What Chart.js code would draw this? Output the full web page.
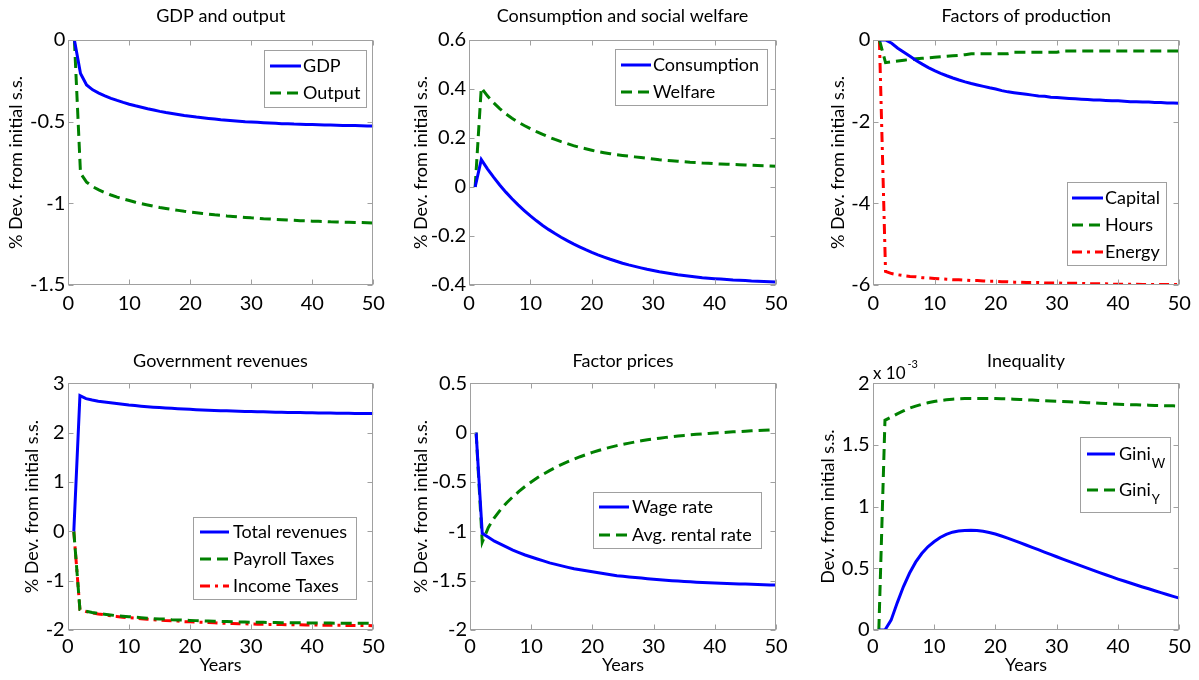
<!DOCTYPE html>
<html><head><meta charset="utf-8">
<script src="https://cdn.jsdelivr.net/npm/chart.js@4.4.1/dist/chart.umd.min.js"></script>
<style>
html,body{margin:0;padding:0;background:#fff;}
#wrap{position:relative;width:1199px;height:680px;overflow:hidden;background:#fff;}
canvas{position:absolute;}
</style></head><body><div id="wrap">
<canvas id="c1" width="400" height="340" style="left:0;top:0"></canvas>
<canvas id="c2" width="400" height="340" style="left:400px;top:0"></canvas>
<canvas id="c3" width="399" height="340" style="left:800px;top:0"></canvas>
<canvas id="c4" width="400" height="340" style="left:0;top:340px"></canvas>
<canvas id="c5" width="400" height="340" style="left:400px;top:340px"></canvas>
<canvas id="c6" width="399" height="340" style="left:800px;top:340px"></canvas>
</div>
<script>
// ---------------- DATA ----------------
const years = [1,2,3,4,5,6,7,8,9,10,11,12,13,14,15,16,17,18,19,20,21,22,23,24,25,26,27,28,29,30,31,32,33,34,35,36,37,38,39,40,41,42,43,44,45,46,47,48,49,50];
const xTicks = [0,10,20,30,40,50];

const gdp = [0,-0.205,-0.275,-0.305,-0.325,-0.342,-0.357,-0.370,-0.382,-0.393,
 -0.403,-0.412,-0.421,-0.429,-0.437,-0.444,-0.450,-0.456,-0.462,-0.467,
 -0.472,-0.476,-0.480,-0.484,-0.488,-0.491,-0.494,-0.497,-0.500,-0.502,
 -0.504,-0.506,-0.508,-0.510,-0.512,-0.513,-0.515,-0.516,-0.517,-0.518,
 -0.519,-0.520,-0.521,-0.522,-0.523,-0.524,-0.524,-0.525,-0.526,-0.526];
const output = [0,-0.816,-0.870,-0.898,-0.918,-0.935,-0.949,-0.962,-0.973,-0.983,
 -0.993,-1.002,-1.010,-1.018,-1.025,-1.031,-1.037,-1.043,-1.049,-1.054,
 -1.058,-1.062,-1.066,-1.070,-1.073,-1.077,-1.080,-1.083,-1.086,-1.089,
 -1.091,-1.094,-1.096,-1.098,-1.100,-1.102,-1.104,-1.106,-1.107,-1.109,
 -1.110,-1.111,-1.113,-1.114,-1.115,-1.116,-1.117,-1.118,-1.119,-1.120];
const ticksGDP = [-1.5,-1,-0.5,0];

const consumption = [0,0.112,0.074,0.040,0.008,-0.021,-0.048,-0.073,-0.096,-0.118,
 -0.138,-0.157,-0.174,-0.190,-0.205,-0.219,-0.232,-0.244,-0.256,-0.267,
 -0.277,-0.286,-0.295,-0.303,-0.311,-0.318,-0.324,-0.330,-0.336,-0.341,
 -0.346,-0.350,-0.354,-0.358,-0.361,-0.364,-0.367,-0.370,-0.372,-0.374,
 -0.376,-0.378,-0.380,-0.381,-0.382,-0.384,-0.385,-0.386,-0.387,-0.388];
const welfare = [0,0.405,0.372,0.344,0.320,0.299,0.281,0.265,0.251,0.238,
 0.226,0.215,0.204,0.194,0.185,0.177,0.169,0.162,0.156,0.150,
 0.144,0.140,0.136,0.132,0.129,0.126,0.123,0.120,0.117,0.114,
 0.111,0.109,0.107,0.105,0.103,0.101,0.100,0.098,0.097,0.095,
 0.094,0.093,0.092,0.091,0.090,0.089,0.088,0.087,0.086,0.085];
const ticksCons = [-0.4,-0.2,0,0.2,0.4,0.6];

const capital = [0,0,-0.08,-0.20,-0.30,-0.40,-0.50,-0.59,-0.675,-0.75,
 -0.815,-0.875,-0.93,-0.98,-1.025,-1.065,-1.10,-1.135,-1.17,-1.20,
 -1.24,-1.27,-1.29,-1.31,-1.33,-1.35,-1.37,-1.38,-1.40,-1.41,
 -1.42,-1.43,-1.44,-1.45,-1.46,-1.47,-1.47,-1.48,-1.49,-1.49,
 -1.50,-1.51,-1.51,-1.52,-1.52,-1.53,-1.53,-1.54,-1.54,-1.55];
const hours = [0,-0.555,-0.535,-0.515,-0.495,-0.478,-0.462,-0.448,-0.435,-0.423,
 -0.410,-0.398,-0.386,-0.375,-0.360,-0.335,-0.335,-0.335,-0.335,-0.335,
 -0.335,-0.335,-0.30,-0.30,-0.30,-0.30,-0.30,-0.30,-0.30,-0.30,
 -0.27,-0.27,-0.27,-0.27,-0.27,-0.27,-0.27,-0.27,-0.27,-0.27,
 -0.27,-0.27,-0.27,-0.27,-0.27,-0.27,-0.27,-0.27,-0.27,-0.27];
const energy = [0,-5.67,-5.72,-5.75,-5.77,-5.79,-5.80,-5.82,-5.83,-5.84,
 -5.85,-5.86,-5.87,-5.87,-5.88,-5.89,-5.89,-5.90,-5.91,-5.91,
 -5.92,-5.92,-5.93,-5.93,-5.94,-5.94,-5.94,-5.95,-5.95,-5.95,
 -5.96,-5.96,-5.96,-5.96,-5.97,-5.97,-5.97,-5.97,-5.98,-5.98,
 -5.98,-5.98,-5.98,-5.99,-5.99,-5.99,-5.99,-5.99,-5.99,-5.99];
const ticksFactors = [-6,-4,-2,0];

const totalRevenues = [0,2.75,2.69,2.66,2.635,2.62,2.605,2.59,2.575,2.56,
 2.548,2.537,2.527,2.517,2.508,2.50,2.492,2.485,2.478,2.472,
 2.466,2.461,2.456,2.451,2.446,2.442,2.438,2.434,2.430,2.427,
 2.424,2.421,2.418,2.415,2.413,2.410,2.408,2.406,2.404,2.402,
 2.400,2.398,2.396,2.395,2.393,2.392,2.390,2.389,2.388,2.386];
const payrollTaxes = [0,-1.585,-1.62,-1.645,-1.665,-1.68,-1.695,-1.71,-1.72,-1.73,
 -1.74,-1.75,-1.76,-1.77,-1.775,-1.78,-1.79,-1.795,-1.80,-1.805,
 -1.81,-1.815,-1.82,-1.823,-1.826,-1.83,-1.833,-1.836,-1.839,-1.841,
 -1.843,-1.845,-1.847,-1.849,-1.851,-1.852,-1.854,-1.855,-1.856,-1.857,
 -1.858,-1.859,-1.860,-1.861,-1.861,-1.862,-1.863,-1.863,-1.864,-1.865];
const incomeTaxes = [0,-1.585,-1.625,-1.655,-1.675,-1.69,-1.71,-1.725,-1.74,-1.75,
 -1.76,-1.77,-1.78,-1.79,-1.80,-1.81,-1.815,-1.82,-1.83,-1.835,
 -1.84,-1.845,-1.85,-1.855,-1.86,-1.864,-1.868,-1.872,-1.875,-1.878,
 -1.881,-1.884,-1.886,-1.888,-1.890,-1.892,-1.894,-1.896,-1.898,-1.899,
 -1.901,-1.902,-1.904,-1.905,-1.906,-1.908,-1.909,-1.910,-1.911,-1.912];
const ticksRevenue = [-2,-1,0,1,2,3];

const wageRate = [0,-1.02,-1.06,-1.10,-1.13,-1.16,-1.19,-1.215,-1.24,-1.26,
 -1.28,-1.30,-1.32,-1.335,-1.35,-1.365,-1.38,-1.39,-1.40,-1.41,
 -1.42,-1.43,-1.44,-1.45,-1.455,-1.462,-1.468,-1.474,-1.48,-1.485,
 -1.49,-1.495,-1.50,-1.504,-1.508,-1.512,-1.515,-1.518,-1.521,-1.524,
 -1.527,-1.529,-1.531,-1.533,-1.535,-1.537,-1.539,-1.541,-1.543,-1.545];
const rentalRate = [0,-1.11,-0.96,-0.86,-0.78,-0.71,-0.65,-0.595,-0.545,-0.50,
 -0.458,-0.42,-0.385,-0.352,-0.322,-0.294,-0.268,-0.244,-0.222,-0.20,
 -0.181,-0.163,-0.147,-0.132,-0.118,-0.106,-0.094,-0.083,-0.073,-0.064,
 -0.056,-0.048,-0.041,-0.034,-0.028,-0.022,-0.017,-0.012,-0.008,-0.004,
 0.000,0.004,0.008,0.011,0.015,0.018,0.021,0.024,0.027,0.030];
const ticksPrices = [-2,-1.5,-1,-0.5,0,0.5];

// Inequality values in units of 10^-3
const giniW = [0,0,0.08,0.22,0.35,0.46,0.55,0.62,0.675,0.715,
 0.75,0.775,0.793,0.802,0.807,0.808,0.806,0.80,0.79,0.778,
 0.762,0.745,0.727,0.708,0.689,0.67,0.651,0.632,0.613,0.594,
 0.575,0.556,0.538,0.52,0.502,0.483,0.465,0.448,0.43,0.413,
 0.397,0.381,0.365,0.349,0.334,0.318,0.303,0.288,0.273,0.258];
const giniY = [0,1.70,1.725,1.752,1.776,1.798,1.815,1.83,1.842,1.852,
 1.86,1.866,1.871,1.874,1.876,1.877,1.877,1.877,1.877,1.876,
 1.875,1.873,1.871,1.869,1.866,1.864,1.861,1.859,1.857,1.855,
 1.853,1.850,1.848,1.846,1.843,1.841,1.838,1.836,1.833,1.831,
 1.829,1.827,1.826,1.824,1.823,1.821,1.820,1.818,1.817,1.815];
const ticksIneq = [0,0.5,1,1.5,2];
const ineqExponent = '-3';

// ---------------- STYLE ----------------
const FONT = "Lato, 'Open Sans', sans-serif";
const BLUE = 'rgb(0,0,255)', GREEN = 'rgb(0,128,0)', RED = 'rgb(255,0,0)';
const SOLID = [], DASH = [11,6], DASHDOT = [10,5,3,5];
const BOXC = '#a0a0a0';
const TICKFONT = 20, LEGFONT = 18;
Chart.defaults.font.family = FONT;

const matlabPlugin = {
  id: 'matlab',
  afterDatasetsDraw(chart, args, o) {
    const ctx = chart.ctx, a = chart.chartArea;
    const xs = chart.scales.x, ys = chart.scales.y;
    ctx.save();
    ctx.setLineDash([]);
    ctx.strokeStyle = BOXC; ctx.lineWidth = 1;
    const L = Math.round(a.left)+0.5, R = Math.round(a.right)-0.5, T = Math.round(a.top)+0.5, B = Math.round(a.bottom)-0.5;
    ctx.strokeRect(L, T, R-L, B-T);
    ctx.beginPath();
    xs.ticks.forEach(t => { const px = Math.round(xs.getPixelForValue(t.value))+0.5; ctx.moveTo(px,B); ctx.lineTo(px,B-5); ctx.moveTo(px,T); ctx.lineTo(px,T+5); });
    ys.ticks.forEach(t => { const py = Math.round(ys.getPixelForValue(t.value))+0.5; ctx.moveTo(L,py); ctx.lineTo(L+5,py); ctx.moveTo(R,py); ctx.lineTo(R-5,py); });
    ctx.stroke();
    const lg = o.legend;
    if (lg) {
      ctx.fillStyle = '#fff';
      ctx.fillRect(lg.x, lg.y, lg.w, lg.h);
      ctx.strokeStyle = BOXC; ctx.lineWidth = 1;
      ctx.strokeRect(lg.x+0.5, lg.y+0.5, lg.w, lg.h);
      chart.data.datasets.forEach((ds, i) => {
        const y = lg.rows[i];
        ctx.strokeStyle = ds.borderColor; ctx.lineWidth = ds.borderWidth;
        ctx.setLineDash(ds.borderDash || []);
        ctx.beginPath(); ctx.moveTo(lg.x1, y); ctx.lineTo(lg.x2, y); ctx.stroke();
        ctx.setLineDash([]);
        ctx.fillStyle = '#000'; ctx.font = LEGFONT + 'px ' + FONT;
        ctx.textBaseline = 'middle'; ctx.textAlign = 'left';
        const lab = o.labels[i];
        ctx.fillText(lab[0], lg.tx, y);
        if (lab[1]) {
          const w = ctx.measureText(lab[0]).width;
          ctx.font = '13px ' + FONT;
          ctx.fillText(lab[1], lg.tx + w + 1, y + 10);
        }
      });
    }
    if (o.exponent) {
      const e = o.exponent;
      ctx.fillStyle = '#000'; ctx.textBaseline = 'middle'; ctx.textAlign = 'left';
      ctx.font = '17px ' + FONT;
      ctx.fillText('x 10', e.x, e.y);
      const w = ctx.measureText('x 10').width;
      ctx.font = '11px ' + FONT;
      ctx.fillText(e.exp, e.x + w + 2, e.y - 10);
    }
    ctx.restore();
  }
};

const fmt = v => String(+(+v).toFixed(3));

function makePanel(id, p) {
  const datasets = p.series.map(s => ({
    label: s.label,
    data: years.map((x, i) => ({x: x, y: s.values[i]})),
    borderColor: s.color, backgroundColor: s.color, borderWidth: 3,
    borderDash: s.dash, pointRadius: 0, fill: false, tension: 0
  }));
  const yt = p.yTicks;
  new Chart(document.getElementById(id), {
    type: 'line',
    data: {datasets},
    options: {
      responsive: false, animation: false, devicePixelRatio: 1,
      layout: {padding: {left: p.padLeft, right: p.padRight, top: 0, bottom: 0}},
      plugins: {
        legend: {display: false}, tooltip: {enabled: false},
        title: {display: true, text: p.title, fullSize: false, color: '#000',
          font: {size: 18, weight: 'normal', family: FONT},
          padding: {top: p.titleTop, bottom: p.titleBottom}},
        matlab: {legend: p.legend, labels: p.series.map(s => s.legend), exponent: p.exponent}
      },
      scales: {
        x: {type: 'linear', min: xTicks[0], max: xTicks[xTicks.length-1],
          afterBuildTicks: s => { s.ticks = xTicks.map(v => ({value: v})); },
          ticks: {font: {size: TICKFONT, family: FONT}, color: '#000', padding: p.xPad, maxRotation: 0, callback: fmt},
          grid: {display: false, drawTicks: false, tickLength: 0}, border: {display: false},
          title: {display: !!p.xTitle, text: p.xTitle || '', color: '#000', font: {size: 18, family: FONT}, padding: {top: 0, bottom: 4}},
          afterFit: s => { s.height = p.xH; }},
        y: {type: 'linear', min: yt[0], max: yt[yt.length-1],
          afterBuildTicks: s => { s.ticks = yt.map(v => ({value: v})); },
          ticks: {font: {size: TICKFONT, family: FONT}, color: '#000', padding: 3, callback: fmt},
          grid: {display: false, drawTicks: false, tickLength: 0}, border: {display: false},
          title: {display: true, text: p.yTitle, color: '#000', font: {size: 18, family: FONT}, padding: 0},
          afterFit: s => { s.width = p.yW; }}
      }
    },
    plugins: [matlabPlugin]
  });
}

const YT = '% Dev. from initial s.s.';
// title font 18 -> line height 21.6
const TOP = {titleTop: 5.2, titleBottom: 13.2, xH: 55, xPad: 6.5};
const BOT = {titleTop: 10.2, titleBottom: 11.5, xH: 50, xPad: 4.2, xTitle: 'Years'};

makePanel('c1', Object.assign({}, TOP, {
  title: 'GDP and output', yTitle: YT, yTicks: ticksGDP,
  padLeft: 5.2, yW: 63.1, padRight: 26.7,
  series: [
    {label: 'GDP', legend: ['GDP'], values: gdp, color: BLUE, dash: SOLID},
    {label: 'Output', legend: ['Output'], values: output, color: GREEN, dash: DASH}],
  legend: {x: 264, y: 50, w: 102, h: 57, rows: [66, 93], x1: 270, x2: 301, tx: 303}
}));
makePanel('c2', Object.assign({}, TOP, {
  title: 'Consumption and social welfare', yTitle: YT, yTicks: ticksCons,
  padLeft: 10.2, yW: 58.8, padRight: 24,
  series: [
    {label: 'Consumption', legend: ['Consumption'], values: consumption, color: BLUE, dash: SOLID},
    {label: 'Welfare', legend: ['Welfare'], values: welfare, color: GREEN, dash: DASH}],
  legend: {x: 215, y: 49, w: 152, h: 56, rows: [65, 92], x1: 221, x2: 251, tx: 253}
}));
makePanel('c3', Object.assign({}, TOP, {
  title: 'Factors of production', yTitle: YT, yTicks: ticksFactors,
  padLeft: 27.2, yW: 46.1, padRight: 19.7,
  series: [
    {label: 'Capital', legend: ['Capital'], values: capital, color: BLUE, dash: SOLID},
    {label: 'Hours', legend: ['Hours'], values: hours, color: GREEN, dash: DASH},
    {label: 'Energy', legend: ['Energy'], values: energy, color: RED, dash: DASHDOT}],
  legend: {x: 267, y: 182, w: 99, h: 83, rows: [198, 225, 252], x1: 272, x2: 303, tx: 305}
}));
makePanel('c4', Object.assign({}, BOT, {
  title: 'Government revenues', yTitle: YT, yTicks: ticksRevenue,
  padLeft: 21.7, yW: 46, padRight: 26.7,
  series: [
    {label: 'Total revenues', legend: ['Total revenues'], values: totalRevenues, color: BLUE, dash: SOLID},
    {label: 'Payroll Taxes', legend: ['Payroll Taxes'], values: payrollTaxes, color: GREEN, dash: DASH},
    {label: 'Income Taxes', legend: ['Income Taxes'], values: incomeTaxes, color: RED, dash: DASHDOT}],
  legend: {x: 193, y: 177, w: 163, h: 82, rows: [192, 219, 246], x1: 200, x2: 229, tx: 233}
}));
makePanel('c5', Object.assign({}, BOT, {
  title: 'Factor prices', yTitle: YT, yTicks: ticksPrices,
  padLeft: 10.2, yW: 59.8, padRight: 24,
  series: [
    {label: 'Wage rate', legend: ['Wage rate'], values: wageRate, color: BLUE, dash: SOLID},
    {label: 'Avg. rental rate', legend: ['Avg. rental rate'], values: rentalRate, color: GREEN, dash: DASH}],
  legend: {x: 193, y: 152, w: 168, h: 56, rows: [167, 195], x1: 199, x2: 229, tx: 232}
}));
makePanel('c6', Object.assign({}, BOT, {
  title: 'Inequality', yTitle: 'Dev. from initial s.s.', yTicks: ticksIneq,
  padLeft: 17.7, yW: 55, padRight: 19.7,
  series: [
    {label: 'Gini_W', legend: ['Gini', 'W'], values: giniW, color: BLUE, dash: SOLID},
    {label: 'Gini_Y', legend: ['Gini', 'Y'], values: giniY, color: GREEN, dash: DASH}],
  legend: {x: 280, y: 97, w: 90, h: 75, rows: [114, 150], x1: 287, x2: 315, tx: 319},
  exponent: {x: 73, y: 34, exp: ineqExponent}
}));
</script>
</body></html>
